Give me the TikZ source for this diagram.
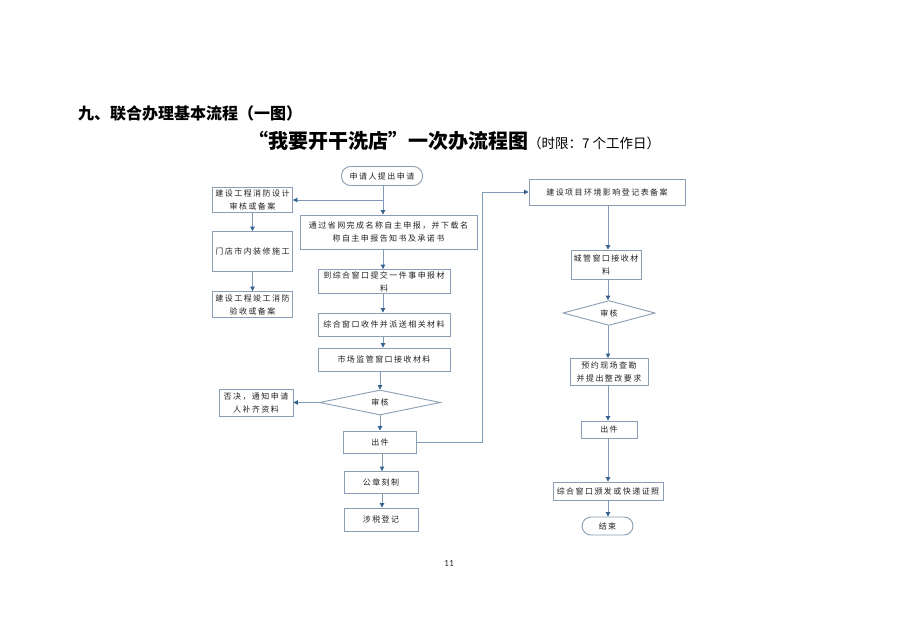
\documentclass[tikz,border=0pt]{standalone}
\usepackage{fontspec}
\setmainfont{Noto Sans CJK SC}
\newfontfamily\boxfont[LetterSpace=18]{Noto Sans CJK SC}
\newfontfamily\numfont{Carlito}
\usetikzlibrary{shapes.geometric,arrows.meta,calc}
\definecolor{bordc}{HTML}{8A9FB5}
\definecolor{linec}{HTML}{7F9AB6}
\definecolor{tipc}{HTML}{35628F}
\definecolor{txtc}{HTML}{222222}
\tikzset{
  box/.style={draw=bordc, line width=0.9pt, fill=white, inner sep=1pt, align=center,
    font=\boxfont\fontsize{8}{13}\selectfont, text=txtc},
  stadium/.style={box, rounded corners=9pt},
  dia/.style={draw=bordc, line width=0.9pt, shape=diamond, inner sep=0pt,
    font=\boxfont\fontsize{8}{13}\selectfont, text=txtc},
  conn/.style={draw=linec, line width=0.9pt, -{Triangle[width=4.5pt,length=4.5pt,color=tipc]}},
}
\begin{document}
\begin{tikzpicture}[x=1pt,y=-1pt]
\useasboundingbox (0,0) rectangle (898,634);
\fill[white] (0,0) rectangle (898,634);

% headings
\node[anchor=base west, inner sep=0, font=\bfseries\fontsize{16}{16}\selectfont] (head) at (78,120) {九、联合办理基本流程（一图）};
\node[anchor=base west, inner sep=0] (title) at (248,148)
  {{\bfseries\fontsize{20}{20}\selectfont “我要开干洗店”一次办流程图}{\fontsize{13.5}{14}\selectfont （时限：7 个工作日）}};

% main column
\node[stadium, minimum width=81pt, minimum height=19pt] (start) at (382,176) {申请人提出申请};
\node[box, minimum width=177pt, minimum height=34pt] (b1) at (388.5,232) {通过省网完成名称自主申报，并下载名\\称自主申报告知书及承诺书};
\node[box, minimum width=132pt, minimum height=24pt] (b2) at (384,281.5) {到综合窗口提交一件事申报材\\料};
\node[box, minimum width=132pt, minimum height=23pt] (b3) at (384,324.5) {综合窗口收件并派送相关材料};
\node[box, minimum width=132pt, minimum height=23pt] (b4) at (384,359.5) {市场监管窗口接收材料};
\node[dia, minimum width=121pt, minimum height=25pt] (d1) at (380,402.5) {审核};
\node[box, minimum width=74pt, minimum height=27pt] (rej) at (256,402.5) {否决，通知申请\\人补齐资料};
\node[box, minimum width=73pt, minimum height=22pt] (out1) at (380,442) {出件};
\node[box, minimum width=74pt, minimum height=22pt] (seal) at (381,482.5) {公章刻制};
\node[box, minimum width=74pt, minimum height=23pt] (tax) at (381,519.5) {涉税登记};

% left column
\node[box, minimum width=80pt, minimum height=25pt] (L1) at (252.5,199.5) {建设工程消防设计\\审核或备案};
\node[box, minimum width=80pt, minimum height=40pt] (L2) at (252.5,251.5) {门店市内装修施工};
\node[box, minimum width=80pt, minimum height=26pt] (L3) at (252.5,304.5) {建设工程竣工消防\\验收或备案};

% right column
\node[box, minimum width=156pt, minimum height=26pt] (R1) at (607,192) {建设项目环境影响登记表备案};
\node[box, minimum width=70pt, minimum height=29pt] (R2) at (606,264.5) {城管窗口接收材\\料};
\node[dia, minimum width=92pt, minimum height=17pt] (d2) at (609,313) {审核};
\node[box, minimum width=78pt, minimum height=27pt] (R3) at (609,372) {预约现场查勘\\并提出整改要求};
\node[box, minimum width=56pt, minimum height=17pt] (R4) at (609,429.5) {出件};
\node[box, minimum width=110pt, minimum height=18pt] (R5) at (608,491) {综合窗口颁发或快递证照};
\node[stadium, minimum width=51pt, minimum height=18pt] (end) at (607.5,526) {结束};

% page number
\node[font=\numfont\fontsize{9.5}{9.5}\selectfont, text=black!80] (pg) at (449,563) {11};

% connectors main column
\coordinate (br) at (383,200);
\coordinate (m1) at (383,0);
\draw[conn] (start.south -| m1) -- (b1.north -| m1);
\draw[conn] (br) -- (L1.east |- br);
\draw[conn] (b1.south -| m1) -- (b2.north -| m1);
\draw[conn] (b2.south -| m1) -- (b3.north -| m1);
\draw[conn] (b3.south -| m1) -- (b4.north -| m1);
\coordinate (m2) at (380,0);
\draw[conn] (b4.south -| m2) -- (d1.north);
\draw[conn] (d1.west) -- (rej.east);
\draw[conn] (d1.south) -- (out1.north -| d1.south);
\coordinate (m3) at (382,0);
\draw[conn] (out1.south -| m3) -- (seal.north -| m3);
\draw[conn] (seal.south -| m3) -- (tax.north -| m3);

% left column
\draw[conn] (L1.south) -- (L2.north);
\draw[conn] (L2.south) -- (L3.north);

% cross to right column
\coordinate (rx) at (482,0);
\draw[conn] (out1.east) -- (out1.east -| rx) -- (R1.west -| rx) -- (R1.west);

% right column
\coordinate (m4) at (608,0);
\draw[conn] (R1.south -| m4) -- (R2.north -| m4);
\draw[conn] (R2.south -| m4) -- (d2.north -| m4);
\draw[conn] (d2.south -| m4) -- (R3.north -| m4);
\draw[conn] (R3.south -| m4) -- (R4.north -| m4);
\draw[conn] (R4.south -| m4) -- (R5.north -| m4);
\draw[conn] (R5.south -| m4) -- (end.north -| m4);
\end{tikzpicture}
\end{document}
